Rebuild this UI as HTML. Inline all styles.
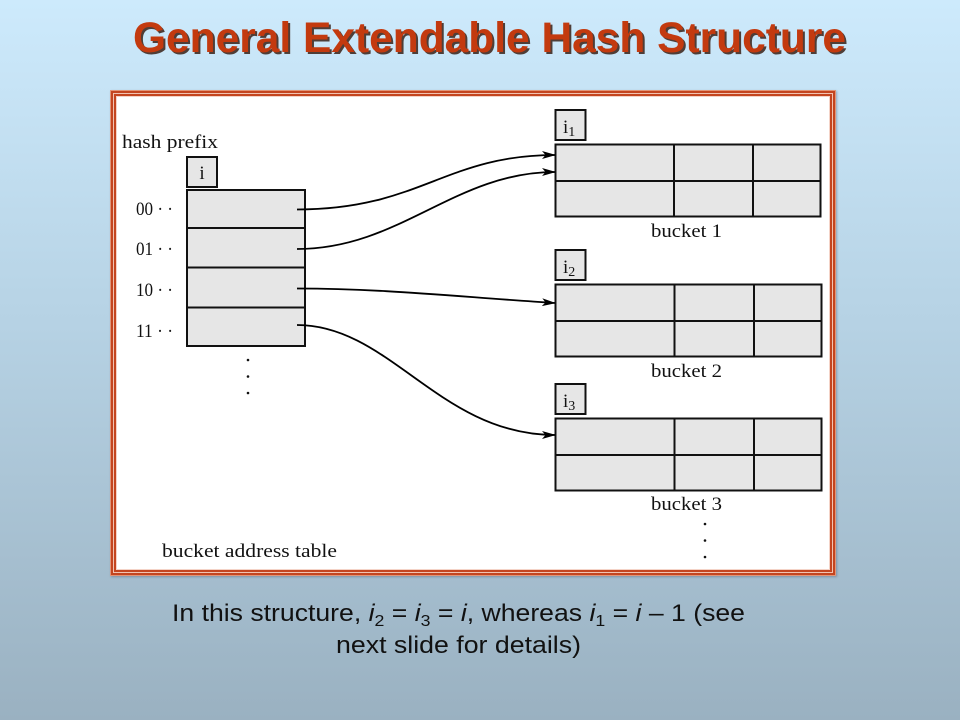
<!DOCTYPE html>
<html>
<head>
<meta charset="utf-8">
<style>
  html, body { margin:0; padding:0; }
  body { width:960px; height:720px; overflow:hidden;
    background: linear-gradient(to bottom, #cdeafc 0%, #b6d2e4 45%, #9ab1c1 100%); }
  svg { position:absolute; left:0; top:0; }
  .frame { position:absolute; left:110px; top:90px; width:726px; height:486px; background:#fff;
    box-shadow: inset 0 0 0 1px #e29578, inset 0 0 0 3px #c4451f, inset 0 0 0 4px #f2c3b1,
                inset 0 0 0 6px #c4451f, inset 0 0 0 7px #f4d3c7, 1px 1px 2px rgba(60,60,80,0.35); }
</style>
</head>
<body>
<div class="frame"></div>
<svg width="960" height="720" viewBox="0 0 960 720" xmlns="http://www.w3.org/2000/svg">
  <defs>
    <marker id="ah" markerWidth="14" markerHeight="10" refX="13" refY="5" orient="auto" markerUnits="userSpaceOnUse">
      <path d="M0,1 L14,5 L0,9 L3.5,5 Z" fill="#000"/>
    </marker>
  </defs>

  <!-- Title -->
  <text x="135" y="54" font-family="Liberation Sans, Arial, sans-serif" font-weight="bold" font-size="43" fill="#4e3e38" textLength="713" lengthAdjust="spacingAndGlyphs">General Extendable Hash Structure</text>
  <text x="133" y="52" font-family="Liberation Sans, Arial, sans-serif" font-weight="bold" font-size="43" fill="#c33a0f" textLength="713" lengthAdjust="spacingAndGlyphs">General Extendable Hash Structure</text>

  <g font-family="Liberation Serif, serif" font-size="19" fill="#111">
    <!-- hash prefix -->
    <text x="122" y="148" textLength="96" lengthAdjust="spacingAndGlyphs">hash prefix</text>

    <!-- i box -->
    <rect x="187" y="157" width="30" height="30" fill="#e6e6e6" stroke="#111" stroke-width="2"/>
    <text x="202" y="179" text-anchor="middle">i</text>

    <!-- bucket address table -->
    <rect x="187" y="190" width="118" height="156" fill="#e6e6e6" stroke="#111" stroke-width="2"/>
    <line x1="187" y1="228" x2="305" y2="228" stroke="#111" stroke-width="2"/>
    <line x1="187" y1="267.5" x2="305" y2="267.5" stroke="#111" stroke-width="2"/>
    <line x1="187" y1="307.5" x2="305" y2="307.5" stroke="#111" stroke-width="2"/>

    <text x="136" y="215" textLength="37" lengthAdjust="spacingAndGlyphs">00 · ·</text>
    <text x="136" y="255" textLength="37" lengthAdjust="spacingAndGlyphs">01 · ·</text>
    <text x="136" y="296" textLength="37" lengthAdjust="spacingAndGlyphs">10 · ·</text>
    <text x="136" y="337" textLength="37" lengthAdjust="spacingAndGlyphs">11 · ·</text>

    <circle cx="248" cy="360" r="1.3" fill="#111"/>
    <circle cx="248" cy="376.5" r="1.3" fill="#111"/>
    <circle cx="248" cy="393" r="1.3" fill="#111"/>

    <text x="162" y="557" textLength="175" lengthAdjust="spacingAndGlyphs">bucket address table</text>

    <!-- bucket 1 -->
    <rect x="555.5" y="110" width="30" height="30" fill="#e6e6e6" stroke="#111" stroke-width="2"/>
    <text x="563" y="133">i<tspan font-size="14" dy="3">1</tspan></text>
    <rect x="555.5" y="144.5" width="265" height="72" fill="#e6e6e6" stroke="#111" stroke-width="2"/>
    <line x1="555.5" y1="181" x2="820.5" y2="181" stroke="#111" stroke-width="2"/>
    <line x1="674" y1="144.5" x2="674" y2="216.5" stroke="#111" stroke-width="2"/>
    <line x1="753" y1="144.5" x2="753" y2="216.5" stroke="#111" stroke-width="2"/>
    <text x="651" y="237" textLength="71" lengthAdjust="spacingAndGlyphs">bucket 1</text>

    <!-- bucket 2 -->
    <rect x="555.5" y="250" width="30" height="30" fill="#e6e6e6" stroke="#111" stroke-width="2"/>
    <text x="563" y="273">i<tspan font-size="14" dy="3">2</tspan></text>
    <rect x="555.5" y="284.5" width="266" height="72" fill="#e6e6e6" stroke="#111" stroke-width="2"/>
    <line x1="555.5" y1="321" x2="821.5" y2="321" stroke="#111" stroke-width="2"/>
    <line x1="674.5" y1="284.5" x2="674.5" y2="356.5" stroke="#111" stroke-width="2"/>
    <line x1="754" y1="284.5" x2="754" y2="356.5" stroke="#111" stroke-width="2"/>
    <text x="651" y="377" textLength="71" lengthAdjust="spacingAndGlyphs">bucket 2</text>

    <!-- bucket 3 -->
    <rect x="555.5" y="384" width="30" height="30" fill="#e6e6e6" stroke="#111" stroke-width="2"/>
    <text x="563" y="407">i<tspan font-size="14" dy="3">3</tspan></text>
    <rect x="555.5" y="418.5" width="266" height="72" fill="#e6e6e6" stroke="#111" stroke-width="2"/>
    <line x1="555.5" y1="455" x2="821.5" y2="455" stroke="#111" stroke-width="2"/>
    <line x1="674.5" y1="418.5" x2="674.5" y2="490.5" stroke="#111" stroke-width="2"/>
    <line x1="754" y1="418.5" x2="754" y2="490.5" stroke="#111" stroke-width="2"/>
    <text x="651" y="510" textLength="71" lengthAdjust="spacingAndGlyphs">bucket 3</text>

    <circle cx="705" cy="524" r="1.3" fill="#111"/>
    <circle cx="705" cy="540.5" r="1.3" fill="#111"/>
    <circle cx="705" cy="557" r="1.3" fill="#111"/>
  </g>

  <!-- connectors -->
  <g fill="none" stroke="#000" stroke-width="1.8">
    <path d="M297,209.5 C420,209.5 445,155 555,155" marker-end="url(#ah)"/>
    <path d="M297,249 C400,249 455,172 555,172" marker-end="url(#ah)"/>
    <path d="M297,288.5 C385,288.5 460,297 555,303" marker-end="url(#ah)"/>
    <path d="M297,325 C390,325 440,435 555,435" marker-end="url(#ah)"/>
  </g>

  <!-- caption -->
  <g font-family="Liberation Sans, Arial, sans-serif" font-size="24" fill="#111">
    <text x="172" y="621" textLength="573" lengthAdjust="spacingAndGlyphs">In this structure, <tspan font-style="italic">i</tspan><tspan font-size="16" dy="5">2</tspan><tspan dy="-5"> = </tspan><tspan font-style="italic">i</tspan><tspan font-size="16" dy="5">3</tspan><tspan dy="-5"> = </tspan><tspan font-style="italic">i</tspan>, whereas <tspan font-style="italic">i</tspan><tspan font-size="16" dy="5">1</tspan><tspan dy="-5"> = </tspan><tspan font-style="italic">i</tspan> – 1 (see</text>
    <text x="336" y="653" textLength="245" lengthAdjust="spacingAndGlyphs">next slide for details)</text>
  </g>
</svg>
</body>
</html>
